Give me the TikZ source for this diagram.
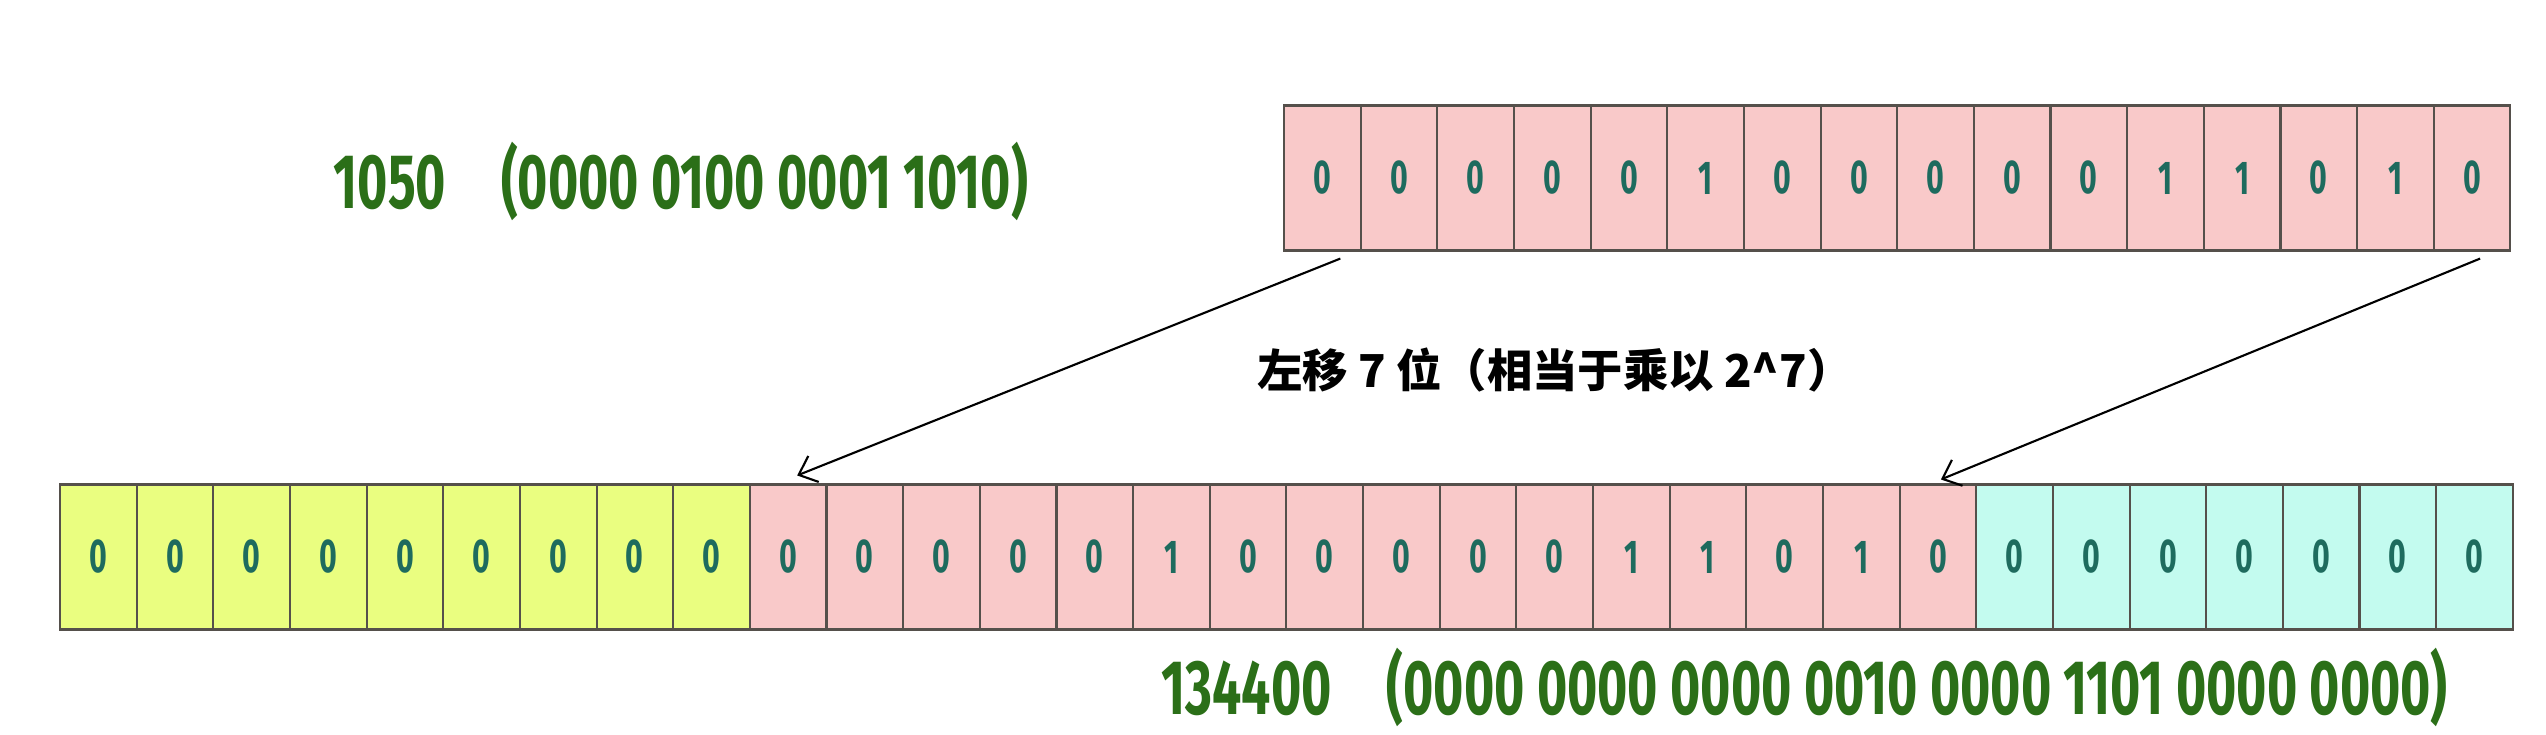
\documentclass[tikz,border=0pt]{standalone}
\usepackage{fontspec}
\setmainfont{Fira Sans}
\newfontfamily\bitfont[FakeStretch=0.64]{Fira Sans}
\newfontfamily\labelfont[FakeStretch=0.67]{Fira Sans}
\newfontfamily\cjkfont{Noto Sans CJK SC}
\usepackage{tikz}
\usetikzlibrary{arrows.meta,positioning}
\definecolor{shiftpink}{HTML}{F9C9C9}
\definecolor{shiftyellow}{HTML}{EAFE80}
\definecolor{shiftcyan}{HTML}{C3FBEF}
\definecolor{shiftline}{HTML}{55504B}
\definecolor{shiftteal}{HTML}{1E6B5E}
\definecolor{shiftgreen}{HTML}{2B6F18}

\begin{document}
\begin{tikzpicture}[x=0.1mm,y=-0.1mm,
  bitcell/.style={draw=shiftline,line width=0.6pt,minimum width=7.665mm,minimum height=14.5mm,inner sep=0,
    text=shiftteal,font=\bitfont\bfseries\fontsize{13.5pt}{14pt}\selectfont},
  numlabel/.style={text=shiftgreen,inner sep=0,font=\labelfont\bfseries\fontsize{22pt}{24pt}\selectfont},
  shiftnote/.style={inner sep=0,font=\cjkfont\bfseries\fontsize{12.9pt}{14pt}\selectfont},
  shiftarrow/.style={-{Straight Barb[length=1.6mm,width=2.8mm]},line width=0.6pt}]
  \useasboundingbox (0,0) rectangle (2546,734);
  \fill[white] (0,0) rectangle (2546,734);
  % 1050 as 16 bits
  \foreach [count=\i from 0] \b in {0,0,0,0,0,1,0,0,0,0,0,1,1,0,1,0}{
      \node[bitcell,fill=shiftpink] (t\i) at ({1284+(\i+0.5)*76.65},178) {\b};
  }
  % shifted left by 7, as 32 bits
  \foreach [count=\i from 0] \b/\col in {%
    0/shiftyellow,0/shiftyellow,0/shiftyellow,0/shiftyellow,0/shiftyellow,0/shiftyellow,0/shiftyellow,0/shiftyellow,0/shiftyellow,
    0/shiftpink,0/shiftpink,0/shiftpink,0/shiftpink,0/shiftpink,1/shiftpink,0/shiftpink,0/shiftpink,
    0/shiftpink,0/shiftpink,0/shiftpink,1/shiftpink,1/shiftpink,0/shiftpink,1/shiftpink,0/shiftpink,
    0/shiftcyan,0/shiftcyan,0/shiftcyan,0/shiftcyan,0/shiftcyan,0/shiftcyan,0/shiftcyan}{
      \node[bitcell,fill=\col] (b\i) at ({60+(\i+0.5)*76.65},557) {\b};
  }
  \node[numlabel,anchor=west] (topnum) at (333,181) {1050\hspace{5.5mm}(0000 0100 0001 1010)};
  \node[numlabel,anchor=west] (botnum) at (1161,687) {134400\hspace{5.5mm}(0000 0000 0000 0010 0000 1101 0000 0000)};
  \node[shiftnote] (note) at (1555,370) {左移 7 位（相当于乘以 2\textasciicircum 7）};
  \draw[shiftarrow] ([xshift=1.8mm,yshift=-0.7mm]t0.south) -- ([xshift=0.9mm,yshift=0.8mm]b9.north);
  \draw[shiftarrow] ([xshift=0.8mm,yshift=-0.7mm]t15.south) -- ([xshift=0.3mm,yshift=0.4mm]b24.north);
\end{tikzpicture}
\end{document}
